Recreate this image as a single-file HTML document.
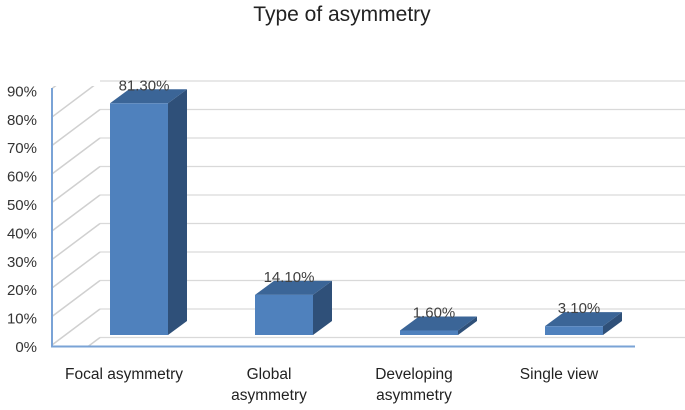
<!DOCTYPE html>
<html><head><meta charset="utf-8"><style>
body{margin:0;background:#fff;font-family:"Liberation Sans",sans-serif}
</style></head><body>
<svg width="685" height="405" viewBox="0 0 685 405" font-family="Liberation Sans, sans-serif">
<text x="342" y="21" text-anchor="middle" font-size="21" fill="#222">Type of asymmetry</text>
<g id="grid"></g><g id="bars"></g><g id="labels"></g>
</svg>
<script>
const categories=[["Focal asymmetry"],["Global","asymmetry"],["Developing","asymmetry"],["Single view"]];
const values=[81.3,14.1,1.6,3.1];
const valueLabels=["81.30%","14.10%","1.60%","3.10%"];
const ticks=[0,10,20,30,40,50,60,70,80,90];
const NS="http://www.w3.org/2000/svg";
function mk(t,a,p){const e=document.createElementNS(NS,t);for(const k in a)e.setAttribute(k,a[k]);p.appendChild(e);return e;}
const S=2.85;
const yBack=v=>337.5-v*S, yFront=v=>335-v*S, yLab=v=>346-v*2.84;
const xBar=i=>110+i*145;
const g=document.getElementById('grid'),b=document.getElementById('bars'),l=document.getElementById('labels');
const cp=mk('clipPath',{id:'wall'},g);mk('rect',{x:52,y:86,width:50,height:260},cp);
for(let v=0;v<=100;v+=10){
  const yb=yBack(v);
  if(v<=90){const h=mk('line',{x1:100,y1:yb,x2:685,y2:yb,stroke:'#d9d9d9','stroke-width':1.3},g);
  }
  const d=mk('line',{x1:52,y1:yb+36,x2:100,y2:yb,stroke:'#d0d0d0','stroke-width':1.5,'clip-path':'url(#wall)'},g);
  
}
const ax=mk('line',{x1:52,y1:88,x2:52,y2:347,stroke:'#7aa3d6','stroke-width':2},g);

const bx=mk('line',{x1:51,y1:346.5,x2:635,y2:346.5,stroke:'#7aa3d6','stroke-width':2},g);

ticks.forEach(t=>{const e=mk('text',{x:37,y:yLab(t)+6,'text-anchor':'end','font-size':15,fill:'#333'},l);e.textContent=t+'%';
});
values.forEach((v,i)=>{
  const x=xBar(i),w=58,dx=19,dy=14,y0=yFront(0),yt=yFront(v);
  const grp=mk('g',{},b);
  mk('polygon',{points:`${x+w},${yt} ${x+w+dx},${yt-dy} ${x+w+dx},${y0-dy} ${x+w},${y0}`,fill:'#2f5079'},grp);
  mk('polygon',{points:`${x},${yt} ${x+dx},${yt-dy} ${x+w+dx},${yt-dy} ${x+w},${yt}`,fill:'#3b6597'},grp);
  mk('rect',{x:x,y:yt,width:w,height:y0-yt,fill:'#4f81bd'},grp);
  const t=mk('text',{x:x+w/2+5,y:yt-dy+1,'text-anchor':'middle','font-size':15,fill:'#404040'},l);t.textContent=valueLabels[i];
  
  categories[i].forEach((s,j)=>{const c=mk('text',{x:x+w/2-15,y:379+j*21,'text-anchor':'middle','font-size':15.5,fill:'#222'},l);c.textContent=s;
  });
});
</script>
</body></html>
